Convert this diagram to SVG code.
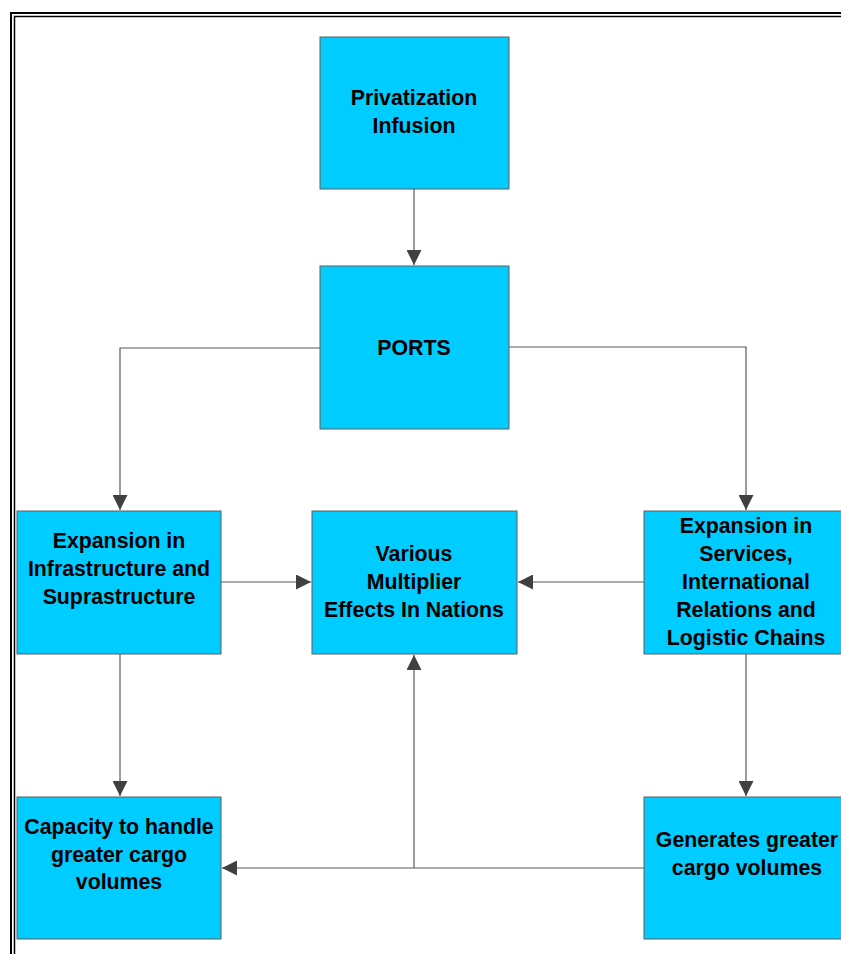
<svg xmlns="http://www.w3.org/2000/svg" width="841" height="954" viewBox="0 0 841 954">
<defs>
<style>
.box{fill:#00CCFF;stroke:#5f5f5f;stroke-width:1}
.t{font-family:"Liberation Sans",Arial,sans-serif;font-weight:bold;font-size:21.3px;fill:#000;text-anchor:middle}
.c{fill:none;stroke:#5a5a5a;stroke-width:1.2}
</style>
<marker id="ah" markerWidth="15" markerHeight="15" viewBox="0 0 15 15" refX="15" refY="7.5" orient="auto" markerUnits="userSpaceOnUse">
<path d="M0,0 L15,7.5 L0,15 Z" fill="#404040"/>
</marker>
</defs>
<rect x="0" y="0" width="841" height="954" fill="#fff"/>
<g id="border">
<path d="M11,960 V13 H850" fill="none" stroke="#000" stroke-width="2"/>
<path d="M14.5,960 V16.5 H850" fill="none" stroke="#000" stroke-width="1.5"/>
</g>
<g id="connectors">
<path class="c" d="M414,189 V265" marker-end="url(#ah)"/>
<path class="c" d="M320,348 H120 V510" marker-end="url(#ah)"/>
<path class="c" d="M509,347 H746 V510" marker-end="url(#ah)"/>
<path class="c" d="M221,582 H311" marker-end="url(#ah)"/>
<path class="c" d="M644,582 H518" marker-end="url(#ah)"/>
<path class="c" d="M120,654 V796" marker-end="url(#ah)"/>
<path class="c" d="M746,654 V796" marker-end="url(#ah)"/>
<path class="c" d="M644,868 H222" marker-end="url(#ah)"/>
<path class="c" d="M414,868 V655" marker-end="url(#ah)"/>
</g>
<g id="privatization">
<rect class="box" x="320" y="37" width="189" height="152"/>
<text class="t" x="414" y="105">Privatization</text>
<text class="t" x="414" y="133">Infusion</text>
</g>
<g id="ports">
<rect class="box" x="320" y="266" width="189" height="163"/>
<text class="t" x="414" y="355">PORTS</text>
</g>
<g id="infrastructure">
<rect class="box" x="17" y="511" width="204" height="143"/>
<text class="t" x="119" y="548">Expansion in</text>
<text class="t" x="119" y="576">Infrastructure and</text>
<text class="t" x="119" y="604">Suprastructure</text>
</g>
<g id="multiplier">
<rect class="box" x="312" y="511" width="205" height="143"/>
<text class="t" x="414" y="561">Various</text>
<text class="t" x="414" y="589">Multiplier</text>
<text class="t" x="414" y="617">Effects In Nations</text>
</g>
<g id="services">
<rect class="box" x="644" y="511" width="210" height="143"/>
<text class="t" x="746" y="533">Expansion in</text>
<text class="t" x="746" y="561">Services,</text>
<text class="t" x="746" y="589">International</text>
<text class="t" x="746" y="617">Relations and</text>
<text class="t" x="746" y="645">Logistic Chains</text>
</g>
<g id="capacity">
<rect class="box" x="17" y="797" width="204" height="142"/>
<text class="t" x="119" y="834">Capacity to handle</text>
<text class="t" x="119" y="862">greater cargo</text>
<text class="t" x="119" y="889">volumes</text>
</g>
<g id="generates">
<rect class="box" x="644" y="797" width="210" height="142"/>
<text class="t" x="747" y="847">Generates greater</text>
<text class="t" x="747" y="875">cargo volumes</text>
</g>
</svg>
